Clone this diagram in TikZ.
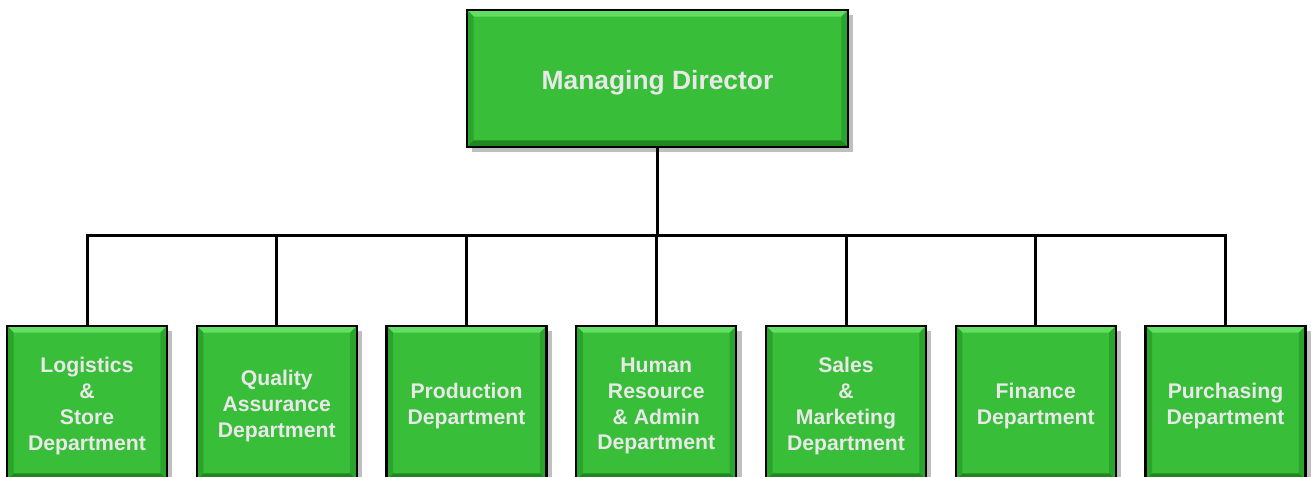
\documentclass[tikz,border=0pt]{standalone}
\usepackage{fontspec}
\setmainfont{Liberation Sans}
\usetikzlibrary{shadows}
\definecolor{boxgreen}{RGB}{56,190,56}
\definecolor{bevtop}{RGB}{98,222,98}
\definecolor{bevside}{RGB}{42,164,42}
\definecolor{bevbot}{RGB}{32,135,32}
\definecolor{txtgray}{RGB}{232,232,232}
\tikzset{
  bevel/.style={path picture={
    \fill[bevtop] (path picture bounding box.north west) -- (path picture bounding box.north east)
      -- ([xshift=-#1,yshift=-#1]path picture bounding box.north east) -- ([xshift=#1,yshift=-#1]path picture bounding box.north west) -- cycle;
    \fill[bevside] (path picture bounding box.north west) -- ([xshift=#1,yshift=-#1]path picture bounding box.north west)
      -- ([xshift=#1,yshift=#1]path picture bounding box.south west) -- (path picture bounding box.south west) -- cycle;
    \fill[bevside] (path picture bounding box.north east) -- ([xshift=-#1,yshift=-#1]path picture bounding box.north east)
      -- ([xshift=-#1,yshift=#1]path picture bounding box.south east) -- (path picture bounding box.south east) -- cycle;
    \fill[bevbot] (path picture bounding box.south west) -- ([xshift=#1,yshift=#1]path picture bounding box.south west)
      -- ([xshift=-#1,yshift=#1]path picture bounding box.south east) -- (path picture bounding box.south east) -- cycle;
  }},
  gbox/.style={draw=black, line width=1.6pt, fill=boxgreen, bevel=5pt,
    drop shadow={shadow xshift=4pt, shadow yshift=-4pt, fill=black, opacity=0.25},
    inner sep=0pt},
  topbox/.style={gbox, minimum width=285.75pt, minimum height=102.75pt},
  deptbox/.style={gbox, minimum width=120pt, minimum height=115.5pt},
  lbl/.style={text=txtgray, align=center, inner sep=0pt,
    font=\bfseries\fontsize{15.9}{19.3}\selectfont},
  toplbl/.style={lbl, font=\bfseries\fontsize{19.8}{24}\selectfont},
  conn/.style={draw=black, line width=2.25pt}
}
\begin{document}
\begin{tikzpicture}[x=0.75pt, y=-0.75pt]
\useasboundingbox (0,0) rectangle (1311,477);
\clip (0,0) rectangle (1311,477);
\node[topbox] (md) at (657.5,78.5) {};
\node[deptbox] (d1) at (87,403) {};
\node[deptbox] (d2) at (276.75,403) {};
\node[deptbox] (d3) at (466.5,403) {};
\node[deptbox] (d4) at (656.25,403) {};
\node[deptbox] (d5) at (846,403) {};
\node[deptbox] (d6) at (1035.75,403) {};
\node[deptbox] (d7) at (1225.5,403) {};
\node[toplbl] (tmd) at ([yshift=-3pt]md.center) {Managing Director};
\node[lbl] (t1) at ([yshift=-2.3pt]d1.center) {Logistics\\\&\\Store\\Department};
\node[lbl] (t2) at ([yshift=-2.3pt]d2.center) {Quality\\Assurance\\Department};
\node[lbl] (t3) at ([yshift=-2.3pt]d3.center) {Production\\Department};
\node[lbl] (t4) at ([yshift=-2.3pt]d4.center) {Human\\Resource\\\& Admin\\Department};
\node[lbl] (t5) at ([yshift=-2.3pt]d5.center) {Sales\\\&\\Marketing\\Department};
\node[lbl] (t6) at ([yshift=-2.3pt]d6.center) {Finance\\Department};
\node[lbl] (t7) at ([yshift=-2.3pt]d7.center) {Purchasing\\Department};
\coordinate (j) at (657.5,236);
\draw[conn] (md.south) -- (md.south |- j);
\draw[conn] (d1.north) -- (d1.north |- j) -- (d7.north |- j) -- (d7.north);
\foreach \k in {2,...,6} {\draw[conn] (d\k.north) -- (d\k.north |- j);}
\end{tikzpicture}
\end{document}
